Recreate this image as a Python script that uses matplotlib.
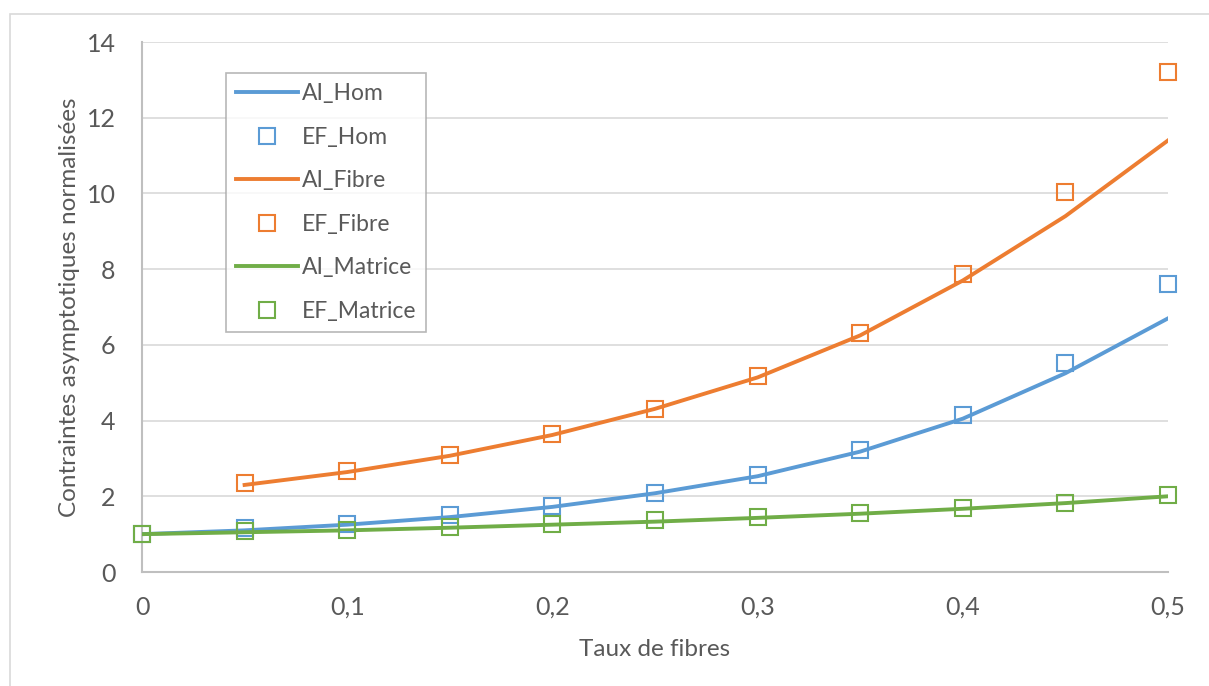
import matplotlib
matplotlib.use("Agg")
from matplotlib import pyplot as plt
from matplotlib.patches import Rectangle

plt.rcParams["font.family"] = ["Lato", "DejaVu Sans"]

# Taux de fibres
x_ai = [0, 0.05, 0.1, 0.15, 0.2, 0.25, 0.3, 0.35, 0.4, 0.45, 0.5]
x_fibre = [0.05, 0.1, 0.15, 0.2, 0.25, 0.3, 0.35, 0.4, 0.45, 0.5]

# Courbes analytiques (AI)
ai_hom = [1.0, 1.1, 1.25, 1.45, 1.72, 2.08, 2.53, 3.18, 4.05, 5.25, 6.7]
ai_fibre = [2.3, 2.64, 3.07, 3.62, 4.31, 5.14, 6.25, 7.7, 9.4, 11.4]
ai_matrice = [1.0, 1.05, 1.1, 1.17, 1.25, 1.33, 1.43, 1.54, 1.67, 1.82, 2.0]

# Points éléments finis (EF)
ef_hom = [1.0, 1.16, 1.28, 1.5, 1.75, 2.1, 2.57, 3.22, 4.15, 5.52, 7.6]
ef_fibre = [2.35, 2.67, 3.1, 3.65, 4.31, 5.18, 6.32, 7.87, 10.03, 13.2]
ef_matrice = [1.0, 1.07, 1.11, 1.19, 1.27, 1.37, 1.45, 1.57, 1.68, 1.83, 2.03]

blue = "#5b9bd5"
orange = "#ed7d31"
green = "#70ad47"
grey_txt = "#595959"

fig = plt.figure(figsize=(12.09, 6.86), dpi=100)
ax = fig.add_axes([142 / 1209, 1 - 572 / 686, (1168 - 142) / 1209, (572 - 42) / 686])

# cadre de la zone de graphique
fig.patches.append(Rectangle((10 / 1209, -0.05), 1.1, 1 - 14 / 686 + 0.05,
                             transform=fig.transFigure, fill=False,
                             edgecolor="#d9d9d9", linewidth=1.2, zorder=0))

ms = 11
ax.plot(x_ai, ai_hom, color=blue, lw=2.8, label="AI_Hom", zorder=3)
ax.plot(x_ai, ef_hom, ls="none", marker="s", ms=ms, mfc="none", mec=blue,
        mew=1.5, label="EF_Hom", clip_on=False, zorder=4)
ax.plot(x_fibre, ai_fibre, color=orange, lw=2.8, label="AI_Fibre", zorder=3)
ax.plot(x_fibre, ef_fibre, ls="none", marker="s", ms=ms, mfc="none", mec=orange,
        mew=1.5, label="EF_Fibre", clip_on=False, zorder=4)
ax.plot(x_ai, ai_matrice, color=green, lw=2.8, label="AI_Matrice", zorder=3)
ax.plot(x_ai, ef_matrice, ls="none", marker="s", ms=ms, mfc="none", mec=green,
        mew=1.5, label="EF_Matrice", clip_on=False, zorder=4)

ax.set_xlim(0, 0.5)
ax.set_ylim(0, 14)
ax.set_xticks([0, 0.1, 0.2, 0.3, 0.4, 0.5])
ax.set_xticklabels(["0", "0,1", "0,2", "0,3", "0,4", "0,5"])
ax.set_yticks(range(0, 15, 2))
ax.tick_params(length=0, labelsize=18, colors=grey_txt)
ax.tick_params(axis="x", pad=17)
ax.tick_params(axis="y", pad=19)
ax.grid(axis="y", color="#d9d9d9", lw=1.2)
ax.set_axisbelow(True)
for s in ["top", "right"]:
    ax.spines[s].set_visible(False)
for s in ["left", "bottom"]:
    ax.spines[s].set_color("#bfbfbf")
    ax.spines[s].set_linewidth(1.5)

ax.set_xlabel("Taux de fibres", fontsize=17.5, color=grey_txt, labelpad=15)
ax.set_ylabel("Contraintes asymptotiques normalisées", fontsize=17.5,
              color=grey_txt, labelpad=5)

leg = ax.legend(loc="upper left", bbox_to_anchor=((226 - 142) / 1026, (572 - 73) / 530),
                fontsize=16.5, frameon=True, fancybox=False, labelcolor=grey_txt,
                handlelength=2.7, handletextpad=0.15, labelspacing=0.98,
                borderpad=0.45, borderaxespad=0)
leg.get_frame().set_edgecolor("#a6a6a6")
leg.get_frame().set_linewidth(1.2)

plt.savefig("out.png", dpi=100)
